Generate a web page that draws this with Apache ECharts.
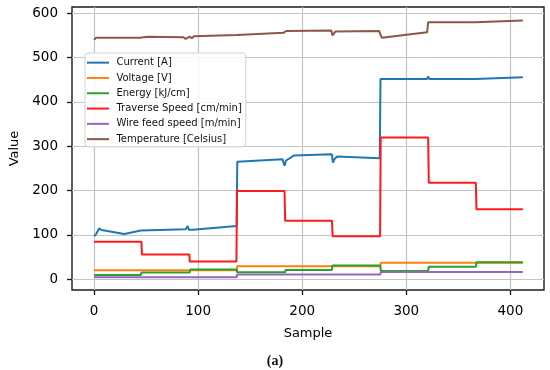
<!DOCTYPE html>
<html>
<head>
<meta charset="utf-8">
<script src="https://cdn.jsdelivr.net/npm/echarts@6/dist/echarts.min.js"></script>
<style>html,body{margin:0;padding:0;background:#fff}#c{width:550px;height:370px}</style>
</head>
<body>
<div id="c"></div>
<script>
const xTicks = [0, 100, 200, 300, 400];
const yTicks = [0, 100, 200, 300, 400, 500, 600];
const seriesNames = ['Current [A]', 'Voltage [V]', 'Energy [kJ/cm]', 'Traverse Speed [cm/min]', 'Wire feed speed [m/min]', 'Temperature [Celsius]'];

const current = [[0,97],[2,102],[5,115],[7,111],[10,110],[29,102],[45,110],[88,113],[90,120],[91,112],[92.5,109],[95,112],[137,120],[137.6,265],[181,271],[183,256],[184.5,268],[192,279],[228.5,282],[229.5,263],[231,271],[233.5,277],[274.5,273],[275.2,452],[320,452],[321,458],[322,452],[366,452],[367,456],[412,456]];
const voltage = [[0,20.5],[137,20.5],[137.5,29.5],[275,29.5],[275.5,37.5],[412,37.5]];
const energy = [[0,10],[45,10],[45.5,15.5],[92,15.5],[92.5,22],[137,22],[137.5,16],[183.5,16],[184,21],[228.5,21],[229,31],[275,31],[275.5,19],[321,19],[321.5,28.5],[367,28.5],[367.5,38.5],[412,38.5]];
const traverse = [[0,85],[45.5,85],[46,56],[91.5,56],[92,40],[136.8,40],[137.3,199],[183,199],[183.6,132],[228.6,132],[229.2,97],[274.8,97],[275.4,320],[321,320],[321.6,218],[366.8,218],[367.4,158],[412,158]];
const wireFeed = [[0,4.5],[137,4.5],[137.5,11],[275,11],[275.5,16.5],[412,16.5]];
const temperature = [[0,540],[2,545],[44,545],[45,549],[52,547],[86,546],[88,542],[89,540],[90,545],[92,547],[94,544],[96,548],[137,551],[138,555],[182,556],[183,554],[184.5,560],[228,561],[229,550],[230,549],[232,559],[274,560],[275,553],[276.5,545],[320,557],[321,580],[366.5,580],[367.5,584],[412,584]];

const colors = ['#1f77b4', '#ff7f0e', '#2ca02c', '#ff1a1a', '#9467bd', '#8c564b'];
const allData = [current, voltage, energy, traverse, wireFeed, temperature];
const FONT = 'DejaVu Sans';

const chart = echarts.init(document.getElementById('c'), null, {renderer: 'canvas'});
const dataSeries = allData.map((d, i) => ({
  name: seriesNames[i],
  type: 'line',
  data: d,
  showSymbol: false,
  symbol: 'none',
  z: 3,
  lineStyle: {color: colors[i], width: 2},
  itemStyle: {color: colors[i]},
  emphasis: {disabled: true}
}));
const gridSeries = {
  name: '_grid',
  type: 'line',
  data: [],
  z: 1,
  silent: true,
  markLine: {
    z: 1,
    silent: true,
    symbol: 'none',
    label: {show: false},
    animation: false,
    lineStyle: {color: '#c4c4c4', width: 1.2, type: 'solid'},
    emphasis: {disabled: true},
    data: xTicks.map(v => ({xAxis: v})).concat(yTicks.map(v => ({yAxis: v})))
  }
};

chart.setOption({
  animation: false,
  color: colors,
  title: {
    text: '(a)', left: 'center', top: 349,
    textStyle: {fontFamily: 'Liberation Serif', fontWeight: 'bold', fontSize: 14, color: '#111'}
  },
  grid: {left: 67, right: 6, top: 7, bottom: 80, show: true, borderColor: '#1a1a1a', borderWidth: 1.4, backgroundColor: 'transparent'},
  legend: {
    data: seriesNames,
    orient: 'vertical',
    left: 85, top: 53,
    icon: 'rect',
    itemWidth: 22, itemHeight: 2,
    itemGap: 0,
    padding: [2, 4, 0, 2],
    backgroundColor: 'rgba(255,255,255,0.85)',
    borderColor: '#d0d0d0', borderWidth: 1, borderRadius: 3,
    selectedMode: false,
    textStyle: {fontFamily: FONT, fontSize: 10, color: '#111', lineHeight: 15.3, padding: [0, 0, 0, 2.4]}
  },
  xAxis: {
    type: 'value', min: -21.2, max: 432.3,
    name: 'Sample', nameLocation: 'middle', nameGap: 37,
    nameTextStyle: {fontFamily: FONT, fontSize: 13, color: '#000'},
    axisLine: {show: false, onZero: false},
    axisTick: {show: true, length: 5, customValues: xTicks, lineStyle: {color: '#1a1a1a', width: 1.3}},
    axisLabel: {customValues: xTicks, margin: 14, fontFamily: FONT, fontSize: 13.5, color: '#000'},
    splitLine: {show: false}
  },
  yAxis: {
    type: 'value', min: -24.1, max: 614.2,
    name: 'Value', nameLocation: 'middle', nameGap: 51, nameRotate: 90,
    nameTextStyle: {fontFamily: FONT, fontSize: 13, color: '#000'},
    axisLine: {show: false, onZero: false},
    axisTick: {show: true, length: 5, customValues: yTicks, lineStyle: {color: '#1a1a1a', width: 1.3}},
    axisLabel: {customValues: yTicks, margin: 14, fontFamily: FONT, fontSize: 13.5, color: '#000'},
    splitLine: {show: false}
  },
  series: [gridSeries].concat(dataSeries)
});
</script>
</body>
</html>
